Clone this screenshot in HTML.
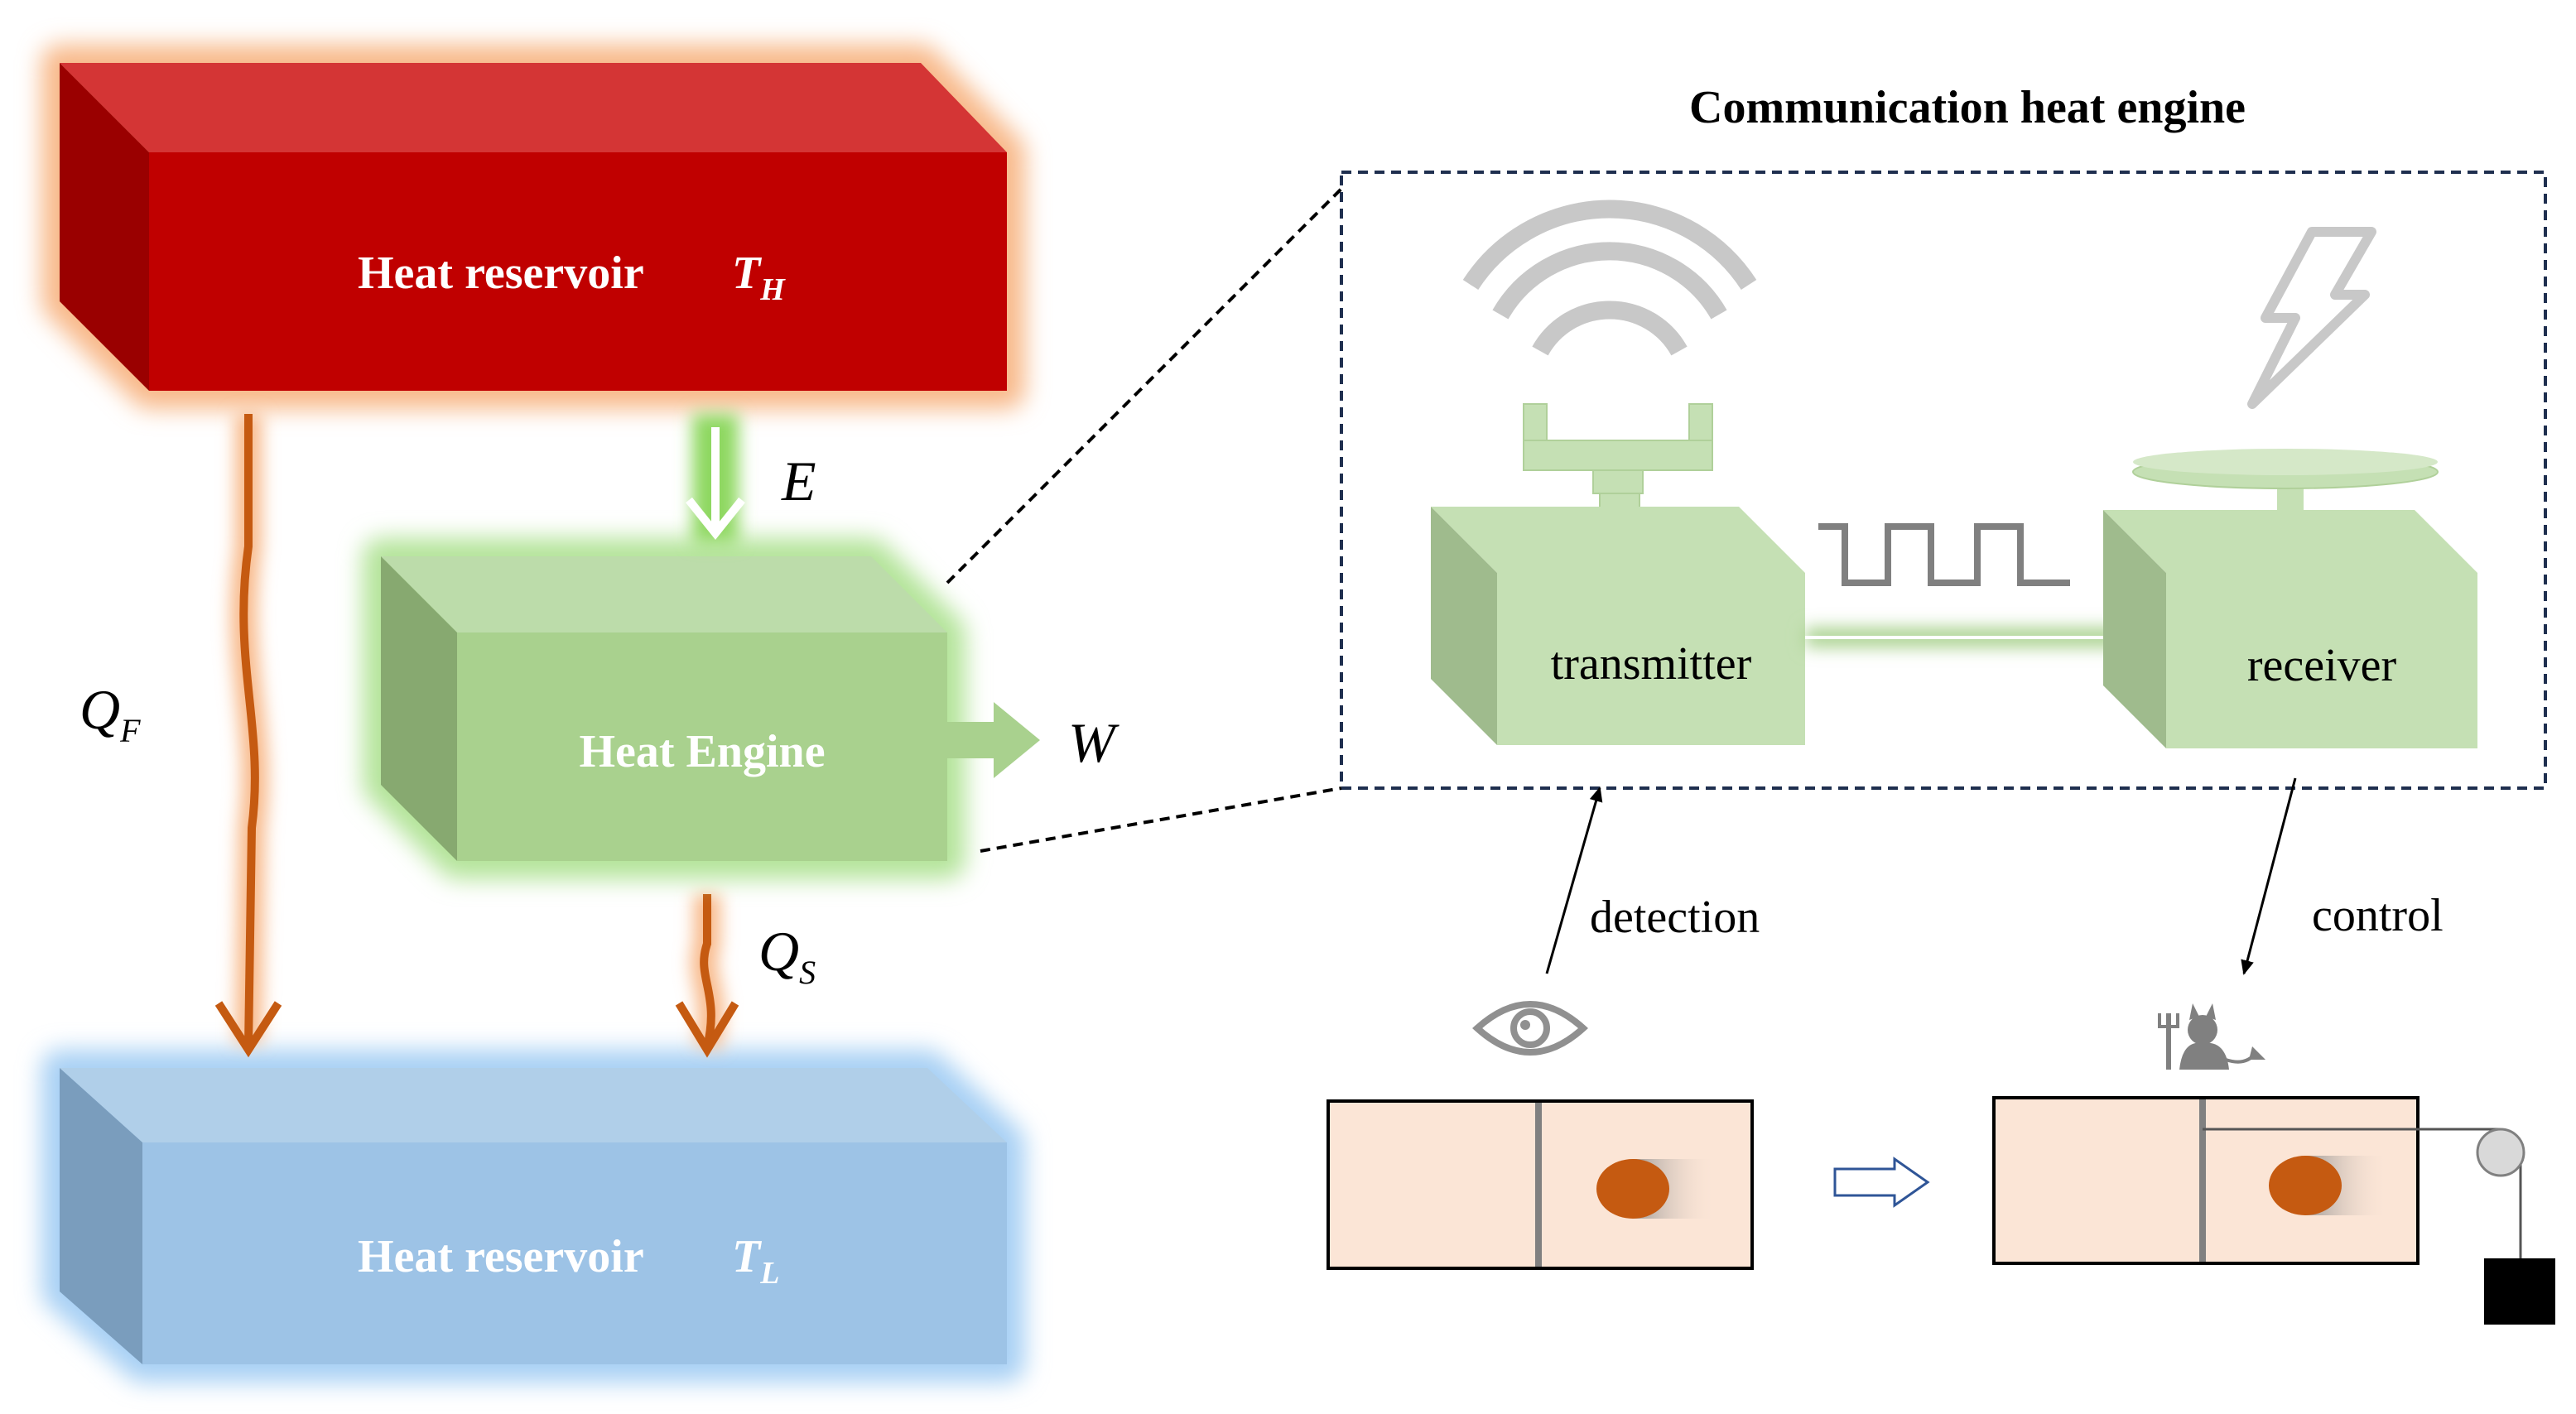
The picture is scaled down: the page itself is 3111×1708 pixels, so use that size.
<!DOCTYPE html>
<html><head><meta charset="utf-8"><style>
html,body{margin:0;padding:0;background:#fff}
svg{display:block}
</style></head><body>
<svg width="3111" height="1708" viewBox="0 0 1555.5 854" xmlns="http://www.w3.org/2000/svg" font-family="'Liberation Serif',serif">
<defs>
<filter id="go" x="-20%" y="-20%" width="140%" height="140%"><feGaussianBlur stdDeviation="7"/></filter>
<filter id="gs" filterUnits="userSpaceOnUse" x="0" y="0" width="1556" height="854"><feGaussianBlur stdDeviation="5"/></filter>
<linearGradient id="tail" x1="0" x2="1"><stop offset="0" stop-color="#888" stop-opacity="0.8"/><stop offset="1" stop-color="#fbe5d6" stop-opacity="0"/></linearGradient>
<marker id="ah" markerWidth="10" markerHeight="10" refX="8" refY="5" orient="auto" markerUnits="userSpaceOnUse"><path d="M0,1 L9,5 L0,9 z" fill="#000"/></marker>
</defs>

<!-- Red reservoir -->
<polygon points="36,38 556,38 608,92 608,236 90,236 36,182" fill="#f8b98a" stroke="#f8b98a" stroke-width="22" stroke-linejoin="round" filter="url(#go)"/>
<polygon points="36,38 556,38 608,92 90,92" fill="#d43535"/>
<polygon points="36,38 90,92 90,236 36,182" fill="#9a0000"/>
<rect x="90" y="92" width="518" height="144" fill="#c00000"/>
<text x="216" y="174" font-size="28" font-weight="bold" fill="#fff">Heat reservoir</text>
<text x="442" y="174" font-size="28" font-weight="bold" font-style="italic" fill="#fff">T<tspan font-size="19" dy="7">H</tspan></text>

<!-- Blue reservoir -->
<polygon points="36,645 560,645 608,690 608,824 86,824 36,780" fill="#a8d0f4" stroke="#a8d0f4" stroke-width="22" stroke-linejoin="round" filter="url(#go)"/>
<polygon points="36,645 560,645 608,690 86,690" fill="#b0cfe9"/>
<polygon points="36,645 86,690 86,824 36,780" fill="#7a9dbd"/>
<rect x="86" y="690" width="522" height="134" fill="#9dc3e6"/>
<text x="216" y="768" font-size="28" font-weight="bold" fill="#fff">Heat reservoir</text>
<text x="442" y="768" font-size="28" font-weight="bold" font-style="italic" fill="#fff">T<tspan font-size="19" dy="7">L</tspan></text>

<!-- Q_F -->
<path d="M150,250 L150,330 C140,400 160,440 152,500 L150,630" stroke="#f8b98a" stroke-width="16" fill="none" filter="url(#gs)"/>
<path d="M150,250 L150,330 C140,400 160,440 152,500 L150,632" stroke="#c55a11" stroke-width="5" fill="none"/>
<polyline points="132,606 150,634 168,606" fill="none" stroke="#c55a11" stroke-width="5"/>
<text x="48" y="440" font-size="34" font-style="italic">Q<tspan font-size="20" dy="8">F</tspan></text>

<!-- Q_S -->
<path d="M427,540 L427,570 C420,590 435,600 427,632" stroke="#f8b98a" stroke-width="16" fill="none" filter="url(#gs)"/>
<path d="M427,540 L427,570 C420,590 435,600 427,632" stroke="#c55a11" stroke-width="5" fill="none"/>
<polyline points="410,606 427,634 444,606" fill="none" stroke="#c55a11" stroke-width="5"/>
<text x="458" y="586" font-size="34" font-style="italic">Q<tspan font-size="20" dy="8">S</tspan></text>

<!-- Heat engine -->
<polygon points="230,336 526,336 572,382 572,520 276,520 230,474" fill="#b4e49a" stroke="#b4e49a" stroke-width="22" stroke-linejoin="round" filter="url(#go)"/>
<polygon points="230,336 526,336 572,382 276,382" fill="#bcdcaa"/>
<polygon points="230,336 276,382 276,520 230,474" fill="#87a970"/>
<rect x="276" y="382" width="296" height="138" fill="#a9d18e"/>
<text x="424" y="463" font-size="28" font-weight="bold" fill="#fff" text-anchor="middle">Heat Engine</text>

<!-- E arrow -->
<rect x="418" y="250" width="28" height="78" fill="#8ed860" filter="url(#gs)"/>
<line x1="432" y1="258" x2="432" y2="320" stroke="#fff" stroke-width="5"/>
<polyline points="416,302 432,322 448,302" fill="none" stroke="#fff" stroke-width="5"/>
<text x="472" y="302" font-size="34" font-style="italic">E</text>

<!-- W arrow -->
<polygon points="570,436 600,436 600,424 628,447 600,470 600,458 570,458" fill="#a9d18e"/>
<text x="645" y="460" font-size="34" font-style="italic">W</text>

<!-- Dashed -->
<rect x="810" y="104" width="727" height="372" fill="none" stroke="#1f2f4f" stroke-width="2" stroke-dasharray="6,4"/>
<line x1="572" y1="352" x2="810" y2="114" stroke="#000" stroke-width="2" stroke-dasharray="6,4"/>
<line x1="592" y1="514" x2="810" y2="476" stroke="#000" stroke-width="2" stroke-dasharray="6,4"/>
<text x="1188" y="74" font-size="28" font-weight="bold" text-anchor="middle">Communication heat engine</text>

<!-- wifi -->
<g fill="none" stroke="#c8c8c8" stroke-width="11" stroke-linecap="butt">
<path d="M888,172 A100,100 0 0 1 1056,172"/>
<path d="M906,190 A76,76 0 0 1 1038,190"/>
<path d="M930,212 A48,48 0 0 1 1014,212"/>
</g>
<!-- antenna -->
<g fill="#c5e0b4" stroke="#b0d09a" stroke-width="1">
<rect x="920" y="244" width="14" height="40"/><rect x="1020" y="244" width="14" height="40"/>
<rect x="920" y="266" width="114" height="18"/>
<rect x="962" y="284" width="30" height="14"/>
<rect x="966" y="298" width="24" height="30"/>
</g>
<!-- transmitter -->
<polygon points="864,306 1050,306 1090,346 904,346" fill="#c5e0b4"/>
<polygon points="864,306 904,346 904,450 864,410" fill="#9fbb8d"/>
<rect x="904" y="346" width="186" height="104" fill="#c5e0b4"/>
<text x="997" y="410" font-size="28" text-anchor="middle">transmitter</text>

<!-- square wave -->
<polyline points="1098,318 1114,318 1114,352 1140,352 1140,318 1166,318 1166,352 1194,352 1194,318 1220,318 1220,352 1250,352" fill="none" stroke="#808080" stroke-width="4"/>
<!-- green arrow -->
<rect x="1090" y="379" width="200" height="12" fill="#a9d18e" filter="url(#gs)"/>
<line x1="1090" y1="385" x2="1286" y2="385" stroke="#fff" stroke-width="2"/>
<polygon points="1280,380 1292,385 1280,390" fill="#e0f0d0"/>

<!-- lightning -->
<polygon points="1396,140 1432,140 1410,178 1428,178 1360,244 1386,192 1368,192" fill="#fff" stroke="#c8c8c8" stroke-width="6" stroke-linejoin="round"/>
<!-- disk -->
<rect x="1375" y="290" width="16" height="32" fill="#c5e0b4"/>
<ellipse cx="1380" cy="285" rx="92" ry="10" fill="#c5e0b4" stroke="#b0d09a"/>
<ellipse cx="1380" cy="279" rx="92" ry="8" fill="#d5e8c8"/>
<!-- receiver -->
<polygon points="1270,308 1458,308 1496,346 1308,346" fill="#c5e0b4"/>
<polygon points="1270,308 1308,346 1308,452 1270,414" fill="#9fbb8d"/>
<rect x="1308" y="346" width="188" height="106" fill="#c5e0b4"/>
<text x="1402" y="411" font-size="28" text-anchor="middle">receiver</text>

<!-- detection / control -->
<line x1="934" y1="588" x2="966" y2="476" stroke="#000" stroke-width="1.5" marker-end="url(#ah)"/>
<text x="960" y="563" font-size="28">detection</text>
<line x1="1386" y1="470" x2="1355" y2="588" stroke="#000" stroke-width="1.5" marker-end="url(#ah)"/>
<text x="1396" y="562" font-size="28">control</text>

<!-- eye -->
<path d="M892,621 Q924,592 956,621 Q924,650 892,621 z" fill="none" stroke="#909090" stroke-width="4"/>
<circle cx="924" cy="621" r="10" fill="none" stroke="#909090" stroke-width="4"/>
<circle cx="921" cy="619" r="3" fill="#909090"/>

<!-- box 1 -->
<rect x="802" y="665" width="256" height="101" fill="#fbe5d6" stroke="#000" stroke-width="2"/>
<line x1="929" y1="666" x2="929" y2="765" stroke="#808080" stroke-width="4"/>
<rect x="986" y="700" width="50" height="36" fill="url(#tail)"/>
<ellipse cx="986" cy="718" rx="22" ry="18" fill="#c55a11"/>

<!-- hollow arrow -->
<polygon points="1108,706 1144,706 1144,700 1164,714 1144,728 1144,722 1108,722" fill="#fff" stroke="#2f5597" stroke-width="1.5"/>

<!-- box 2 -->
<rect x="1204" y="663" width="256" height="100" fill="#fbe5d6" stroke="#000" stroke-width="2"/>
<line x1="1330" y1="664" x2="1330" y2="762" stroke="#808080" stroke-width="4"/>
<rect x="1392" y="698" width="50" height="36" fill="url(#tail)"/>
<ellipse cx="1392" cy="716" rx="22" ry="18" fill="#c55a11"/>
<polyline points="1330,682 1510,682" fill="none" stroke="#555" stroke-width="1.5"/>
<line x1="1522" y1="696" x2="1522" y2="760" stroke="#555" stroke-width="1.5"/>
<circle cx="1510" cy="696" r="14" fill="#d9d9d9" stroke="#808080" stroke-width="1.5"/>
<rect x="1500" y="760" width="43" height="40" fill="#000"/>

<!-- demon -->
<g fill="#808080">
<circle cx="1330" cy="622" r="9"/>
<polygon points="1322,616 1324,606 1328,614"/><polygon points="1338,616 1336,606 1332,614"/>
<path d="M1316,646 Q1318,628 1330,630 Q1344,628 1346,646 z"/>
<rect x="1308" y="612" width="3" height="34"/>
<path d="M1304,612 L1304,620 L1315,620 L1315,612" fill="none" stroke="#808080" stroke-width="2"/>
<path d="M1344,640 Q1356,644 1362,636" fill="none" stroke="#808080" stroke-width="2"/>
<polygon points="1360,632 1368,640 1358,640"/>
</g>
</svg>
</body></html>
